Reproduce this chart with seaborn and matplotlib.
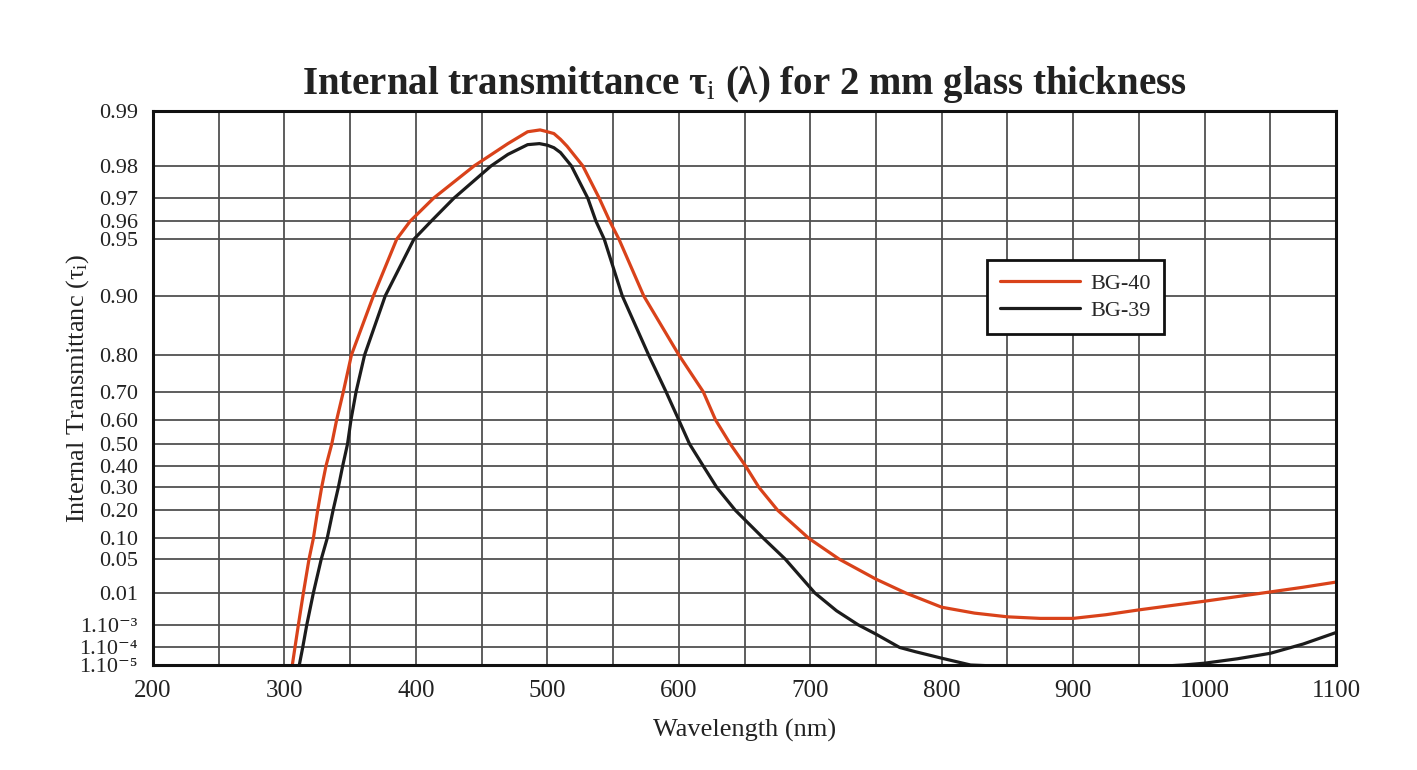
import numpy as np
import pandas as pd
import matplotlib
matplotlib.use("Agg")
import matplotlib.pyplot as plt
import seaborn as sns
from matplotlib.lines import Line2D

# ---- data ----
bg40_wl = [306, 308, 310.6, 314.4, 318.7, 322, 325.3, 328.3, 331.6, 336, 339.7, 344.8,
           351, 367.7, 385.4, 395.6, 413.4, 444.3, 450, 470, 485, 494.5, 500, 505, 510,
           515, 527, 539.5, 547.5, 554.5, 573.3, 600, 618.6, 628.0, 639.2, 650.8, 661,
           675.2, 699, 722, 750, 772.6, 800, 825, 850, 875, 900, 925, 950, 975, 1000, 1050, 1075, 1100]
bg40_t = [1e-5, 1e-4, 1e-3, 0.01, 0.05, 0.10, 0.20, 0.30, 0.40, 0.50, 0.60, 0.70,
          0.80, 0.90, 0.95, 0.96, 0.97, 0.98, 0.9812, 0.9849, 0.987, 0.9873, 0.987, 0.9867, 0.9857,
          0.9844, 0.98, 0.97, 0.96, 0.95, 0.90, 0.80, 0.70, 0.60, 0.50, 0.40, 0.30,
          0.20, 0.10, 0.05, 0.021, 0.01, 4.0e-3, 2.6e-3, 1.95e-3, 1.72e-3, 1.72e-3, 2.3e-3, 3.3e-3,
          4.5e-3, 6.0e-3, 0.0106, 0.0138, 0.0181]

bg39_wl = [311.3, 313.9, 317, 322, 328, 332.5, 337, 341, 344.3, 348, 350.6, 354.5,
           361, 376.7, 398.5, 411.6, 428.9, 457.2, 470, 485, 494, 500, 505, 510,
           518.3, 530.8, 537, 543.3, 557, 577, 590.3, 600, 608.2, 618.6, 628.9, 643,
           664.5, 681, 703.5, 720, 736.5, 750, 768, 780, 800, 822, 850, 900, 950, 984,
           1000, 1025, 1050, 1075, 1100]
bg39_t = [1e-5, 1e-4, 1e-3, 0.01, 0.05, 0.10, 0.20, 0.30, 0.40, 0.50, 0.60, 0.70,
          0.80, 0.90, 0.95, 0.96, 0.97, 0.98, 0.9827, 0.9847, 0.9849, 0.9846, 0.9841, 0.9831,
          0.98, 0.97, 0.96, 0.95, 0.90, 0.80, 0.70, 0.60, 0.50, 0.40, 0.30, 0.20,
          0.10, 0.05, 0.01, 3.1e-3, 1e-3, 4.2e-4, 1e-4, 6e-5, 2.6e-5, 1e-5, 8e-6, 6e-6, 7e-6, 1e-5,
          1.3e-5, 2.4e-5, 4.9e-5, 1.48e-4, 4.9e-4]

series_names = ["BG-40", "BG-39"]
series_colors = ["#d9421a", "#1c1c1c"]

ytick_values = [0.99, 0.98, 0.97, 0.96, 0.95, 0.90, 0.80, 0.70, 0.60, 0.50, 0.40,
                0.30, 0.20, 0.10, 0.05, 0.01, 1e-3, 1e-4, 1e-5]
ytick_labels = ["0.99", "0.98", "0.97", "0.96", "0.95", "0.90", "0.80", "0.70", "0.60",
                "0.50", "0.40", "0.30", "0.20", "0.10", "0.05", "0.01",
                "1.10\u207b\u00b3", "1.10\u207b\u2074", "1.10\u207b\u2075"]
xtick_values = list(range(200, 1101, 100))

df = pd.concat([
    pd.DataFrame({"wl": bg40_wl, "t": bg40_t, "glass": series_names[0]}),
    pd.DataFrame({"wl": bg39_wl, "t": bg39_t, "glass": series_names[1]}),
])

sns.set_theme(style="white")
plt.rcParams["font.family"] = ["Liberation Serif", "DejaVu Serif"]
plt.rcParams["mathtext.fontset"] = "custom"
plt.rcParams["mathtext.rm"] = "Liberation Serif"
plt.rcParams["mathtext.it"] = "Liberation Serif:italic"
plt.rcParams["mathtext.bf"] = "Liberation Serif:bold"


def fwd(t):
    t = np.clip(np.asarray(t, dtype=float), 1e-300, 1 - 1e-15)
    return -np.log10(-np.log10(t))


def inv(u):
    u = np.asarray(u, dtype=float)
    return 10.0 ** (-(10.0 ** (-u)))


fig = plt.figure(figsize=(14.17, 7.70), dpi=100)
ax = fig.add_axes([153 / 1417, 1 - 665 / 770, (1336 - 153) / 1417, (665 - 111) / 770])

sns.lineplot(data=df, x="wl", y="t", hue="glass", hue_order=series_names,
             palette=dict(zip(series_names, series_colors)), estimator=None,
             sort=False, linewidth=2.3, ax=ax, legend=False)

ax.set_yscale("function", functions=(fwd, inv))
ax.set_xlim(200, 1100)
ax.set_ylim(1e-5, 0.99)
ax.set_yticks(ytick_values)
ax.set_yticklabels(ytick_labels)
ax.set_xticks(xtick_values)
ax.set_xticklabels([str(v) for v in xtick_values])
ax.set_xticks(list(range(250, 1100, 100)), minor=True)
ax.yaxis.set_minor_locator(matplotlib.ticker.NullLocator())

ax.grid(True, which="both", axis="x", color="#505050", linewidth=1.3)
ax.grid(True, which="major", axis="y", color="#505050", linewidth=1.3)
ax.tick_params(axis="y", which="both", length=0, labelsize=16, colors="#222222", pad=11)
ax.tick_params(axis="x", which="both", length=0, labelsize=18, colors="#222222", pad=11)
for s in ax.spines.values():
    s.set_color("#111111")
    s.set_linewidth(2.2)
    s.set_visible(True)

ax.set_xlabel("Wavelength (nm)", fontsize=19, color="#222222")
ax.xaxis.set_label_coords(0.5, -0.098)
ax.set_ylabel("Internal Transmittanc (τ$_\\mathrm{i}$)", fontsize=19, color="#222222")
ax.yaxis.set_label_coords(-0.052, 0.5)
ax.set_title("Internal transmittance τ$_\\mathrm{i}$ (λ) for 2 mm glass thickness",
             fontsize=28, fontweight="bold", color="#222222", pad=12)

handles = [Line2D([0], [0], color=c, linewidth=2.3) for c in series_colors]
leg = ax.legend(handles, series_names, loc="upper left", bbox_to_anchor=(0.705, 0.731),
                borderaxespad=0, fontsize=16, frameon=True, fancybox=False,
                handlelength=3.6, borderpad=0.6, labelspacing=0.3, handletextpad=0.45)
leg.get_frame().set_edgecolor("#111111")
leg.get_frame().set_linewidth(2.0)
leg.get_frame().set_facecolor("white")
leg.get_frame().set_alpha(1)

fig.savefig("out.png", dpi=100, facecolor="white")
